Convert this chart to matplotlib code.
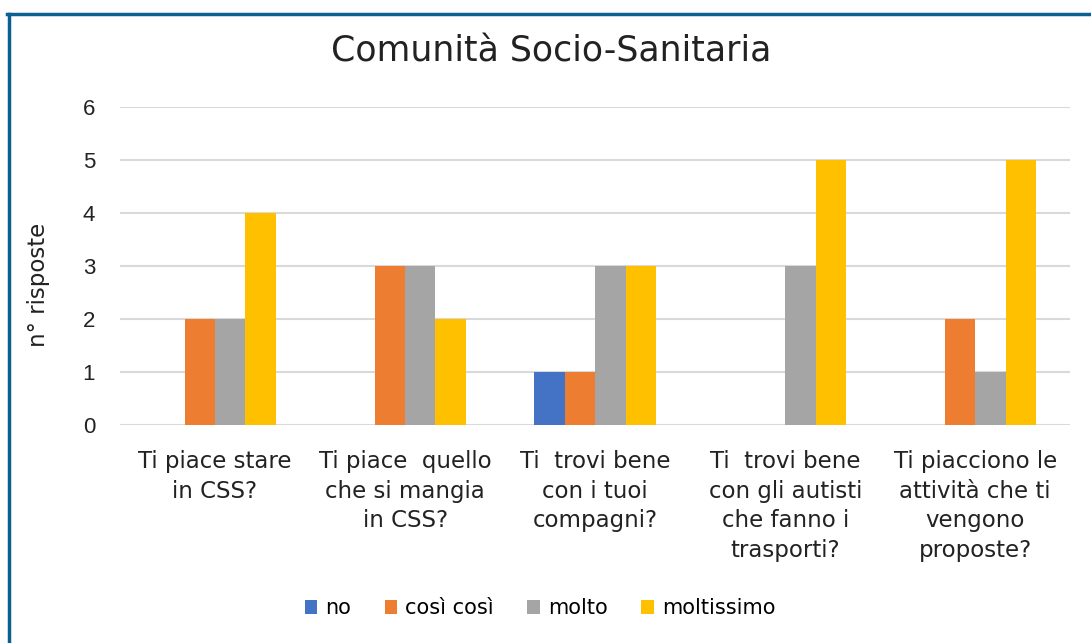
from matplotlib import pyplot as plt
from matplotlib.lines import Line2D
import numpy as np

# dati del grafico
categories = ['Ti piace stare\nin CSS?',
              'Ti piace  quello\nche si mangia\nin CSS?',
              'Ti  trovi bene\ncon i tuoi\ncompagni?',
              'Ti  trovi bene\ncon gli autisti\nche fanno i\ntrasporti?',
              'Ti piacciono le\nattività che ti\nvengono\nproposte?']
series_names = ['no', 'così così', 'molto', 'moltissimo']
no = [0, 0, 1, 0, 0]
cosi_cosi = [2, 3, 1, 0, 2]
molto = [2, 3, 3, 3, 1]
moltissimo = [4, 2, 3, 5, 5]
colors = ['#4472C4', '#ED7D31', '#A5A5A5', '#FFC000']

plt.rcParams['font.family'] = ['DejaVu Sans']

fig = plt.figure(figsize=(10.91, 6.43), dpi=100)
ax = fig.add_axes([0.110, 0.339, 0.871, 0.495])

x = np.arange(len(categories))
w = 0.16
for i, (vals, name) in enumerate(zip([no, cosi_cosi, molto, moltissimo], series_names)):
    ax.bar(x + (i - 1.5) * w, vals, width=w, color=colors[i], label=name, zorder=3)

ax.set_xlim(-0.5, len(categories) - 0.5)
ax.set_ylim(0, 6)
ax.set_yticks(range(7))
ax.set_yticklabels([str(v) for v in range(7)], family=['Liberation Sans'], fontsize=16,
                   color='#222222')
ax.set_xticks(x)
ax.set_xticklabels(categories, fontsize=16.5, color='#222222', linespacing=1.37)
ax.tick_params(axis='both', length=0)
ax.tick_params(axis='y', pad=18)
ax.tick_params(axis='x', pad=18)
ax.grid(axis='y', color='#d9d9d9', linewidth=1.5, zorder=0)
for s in ax.spines.values():
    s.set_visible(False)

ax.set_ylabel('n° risposte', fontsize=16.5, color='#222222')
ax.yaxis.set_label_coords(-0.074, 0.44)
fig.text(0.505, 0.92, 'Comunità Socio-Sanitaria', ha='center', va='center',
         fontsize=25, color='#222222')

fig.legend(loc='center', bbox_to_anchor=(0.495, 0.054), ncol=4, frameon=False,
           fontsize=15, handlelength=0.6, handleheight=0.6, handletextpad=0.4,
           columnspacing=1.6)

# cornice blu
fig.add_artist(Line2D([0.0078, 0.0078], [0, 0.979], transform=fig.transFigure,
                      color='#0a6090', linewidth=2.5))
fig.add_artist(Line2D([0.0066, 1.0], [0.979, 0.979], transform=fig.transFigure,
                      color='#0a6090', linewidth=2.5))

fig.savefig('out.png', dpi=100)
